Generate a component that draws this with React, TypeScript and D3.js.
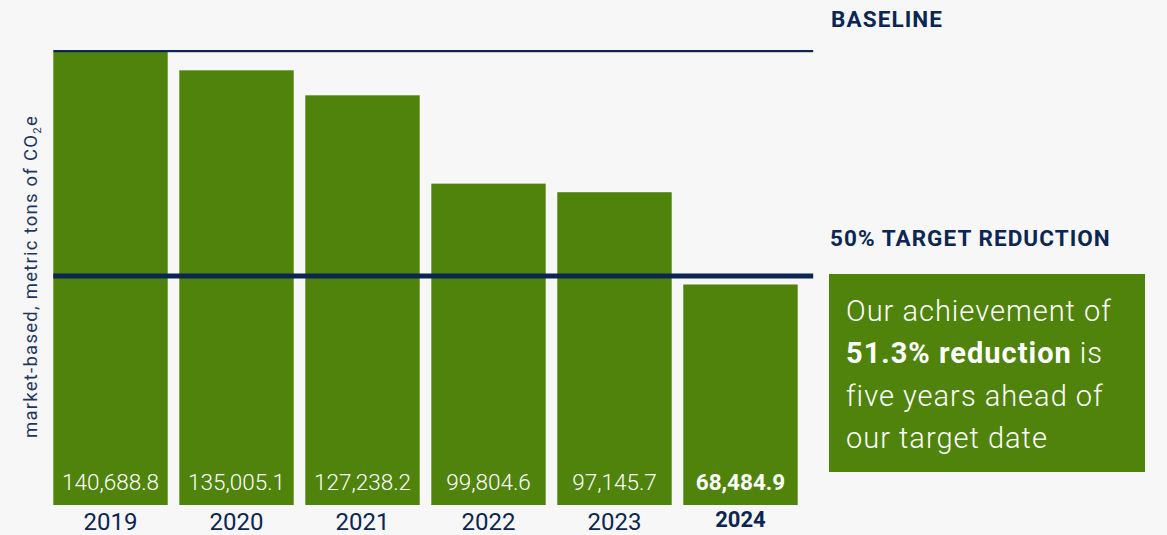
import React from "react";
import * as d3 from "d3";

const years = ["2019", "2020", "2021", "2022", "2023", "2024"];
const emissions = [140688.8, 135005.1, 127238.2, 99804.6, 97145.7, 68484.9];
const valueLabels = ["140,688.8", "135,005.1", "127,238.2", "99,804.6", "97,145.7", "68,484.9"];
const highlightYear = "2024";
const baselineValue = 140688.8;
const targetValue = baselineValue * 0.5;
const baselineLabel = "BASELINE";
const targetLabel = "50% TARGET REDUCTION";
const yAxisTitle = "market-based, metric tons of CO";
const noteLines = [
  [{ t: "Our achievement of", b: false }],
  [{ t: "51.3% reduction", b: true }, { t: " is", b: false }],
  [{ t: "five years ahead of", b: false }],
  [{ t: "our target date", b: false }],
];

const W = 1167;
const H = 535;
const GREEN = "#50830b";
const NAVY = "#0b2652";
const BG = "#f7f7f7";
const FONT = "Roboto, 'Noto Sans', sans-serif";

export default function App() {
  const x = d3.scaleBand<string>().domain(years).range([53.3, 797.7]).paddingInner(0.092).paddingOuter(0);
  const y = d3.scaleLinear().domain([0, baselineValue]).range([505, 52]);
  const lineX0 = x(years[0])!;
  const lineX1 = x(years[years.length - 1])! + x.bandwidth() + 15.5;

  return (
    <svg
      width={W}
      height={H}
      style={{ position: "absolute", left: 0, top: 0, background: BG, fontFamily: FONT }}
    >
      <rect x={0} y={0} width={W} height={H} fill={BG} />
      {years.map((yr, i) => (
        <g key={yr}>
          <rect x={x(yr)} y={y(emissions[i])} width={x.bandwidth()} height={y(0) - y(emissions[i])} fill={GREEN} />
          <text
            x={x(yr)! + x.bandwidth() / 2}
            y={490}
            textAnchor="middle"
            fill="#ffffff"
            fontSize={22.5}
            fontWeight={yr === highlightYear ? 700 : 300}
          >
            {valueLabels[i]}
          </text>
          <text
            x={x(yr)! + x.bandwidth() / 2}
            y={yr === highlightYear ? 527 : 530}
            textAnchor="middle"
            fill={NAVY}
            fontSize={yr === highlightYear ? 22 : 24}
            fontWeight={yr === highlightYear ? 700 : 400}
          >
            {yr}
          </text>
        </g>
      ))}
      {/* baseline line */}
      <rect x={lineX0} y={y(baselineValue) - 2} width={lineX1 - lineX0} height={2.2} fill={NAVY} />
      {/* target line */}
      <rect x={lineX0} y={y(targetValue) - 5} width={lineX1 - lineX0} height={5} fill={NAVY} />

      <text x={831} y={26.5} fill={NAVY} fontSize={22.5} fontWeight={700} letterSpacing={1.1}>
        {baselineLabel}
      </text>
      <text x={830} y={246} fill={NAVY} fontSize={22.5} fontWeight={700} letterSpacing={1.05}>
        {targetLabel}
      </text>

      <text
        transform="translate(37,438) rotate(-90)"
        fill="#1f3660"
        fontSize={18.5}
        fontWeight={400}
        letterSpacing={1.25}
      >
        {yAxisTitle}
        <tspan fontSize={11.5} dy={4}>2</tspan>
        <tspan dy={-4}>e</tspan>
      </text>

      <rect x={829} y={274} width={316} height={198} fill={GREEN} />
      {noteLines.map((segs, i) => (
        <text key={i} x={846} y={321 + i * 42.4} fill="#ffffff" fontSize={29} fontWeight={300} letterSpacing={1}>
          {segs.map((s, j) => (
            <tspan key={j} fontWeight={s.b ? 700 : 300}>
              {s.t}
            </tspan>
          ))}
        </text>
      ))}
    </svg>
  );
}
